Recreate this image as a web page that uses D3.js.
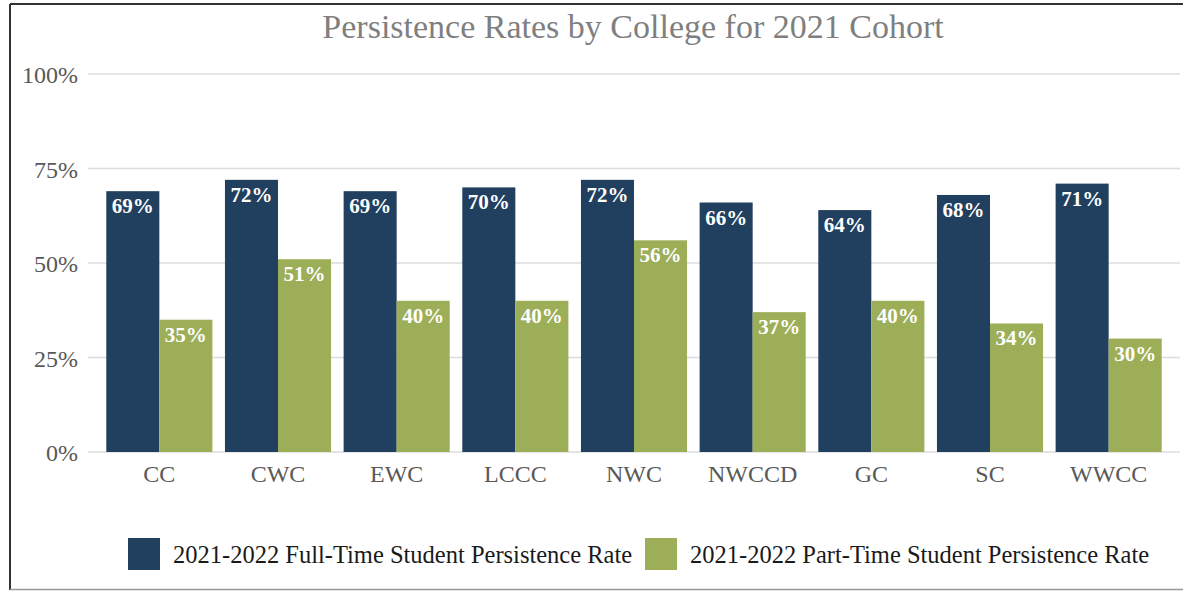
<!DOCTYPE html>
<html><head><meta charset="utf-8">
<script src="https://cdn.jsdelivr.net/npm/d3@7"></script>
<style>body{margin:0;background:#fff}svg{display:block}</style>
</head><body>
<svg id="c" width="1183" height="592"></svg>
<script>
const categories = ["CC","CWC","EWC","LCCC","NWC","NWCCD","GC","SC","WWCC"];
const fullTime = [69,72,69,70,72,66,64,68,71];
const partTime = [35,51,40,40,56,37,40,34,30];
const seriesNames = ["2021-2022 Full-Time Student Persistence Rate","2021-2022 Part-Time Student Persistence Rate"];
const colors = ["#213f5e","#9dae59"];
const yTicks = [0,25,50,75,100];
const title = "Persistence Rates by College for 2021 Cohort";

const svg = d3.select("#c");
const serif = "'Liberation Serif','Times New Roman',serif";

// frame
svg.append("line").attr("x1",10).attr("x2",1183).attr("y1",4).attr("y2",4).attr("stroke","#333").attr("stroke-width",2);
svg.append("line").attr("x1",10).attr("x2",10).attr("y1",4).attr("y2",590).attr("stroke","#333").attr("stroke-width",2);
svg.append("line").attr("x1",10).attr("x2",1183).attr("y1",589.5).attr("y2",589.5).attr("stroke","#999").attr("stroke-width",1.5);

const y = d3.scaleLinear().domain([0,100]).range([452,74]);
const x0 = d3.scaleBand().domain(categories).range([100,1168]).paddingInner(0.106).paddingOuter(0.053);
const x1 = d3.scaleBand().domain([0,1]).range([0,x0.bandwidth()]);

// gridlines
svg.append("g").selectAll("line").data(yTicks).join("line")
  .attr("x1",88).attr("x2",1180).attr("y1",d=>y(d)).attr("y2",d=>y(d))
  .attr("stroke","#dcdcdc").attr("stroke-width",1.5);

// y labels
const yAxis = d3.axisLeft(y).tickValues(yTicks).tickFormat(d=>d+"%").tickSize(0).tickPadding(0);
const ga = svg.append("g").attr("transform","translate(78,0)").call(yAxis);
ga.select(".domain").remove();
ga.selectAll("text").attr("font-family",serif).attr("font-size",24).attr("fill","#595959").attr("dy","0.36em");

// bars
const data = categories.map((c,i)=>({c, v:[fullTime[i],partTime[i]]}));
const groups = svg.append("g").selectAll("g").data(data).join("g").attr("transform",d=>`translate(${x0(d.c)},0)`);
groups.selectAll("rect").data(d=>d.v.map((v,k)=>({v,k}))).join("rect")
  .attr("x",d=>x1(d.k)).attr("width",x1.bandwidth())
  .attr("y",d=>y(d.v)).attr("height",d=>y(0)-y(d.v)).attr("fill",d=>colors[d.k]);
groups.selectAll("text").data(d=>d.v.map((v,k)=>({v,k}))).join("text")
  .attr("x",d=>x1(d.k)+x1.bandwidth()/2).attr("y",d=>y(d.v)+22)
  .attr("text-anchor","middle").attr("font-family",serif).attr("font-weight","bold")
  .attr("font-size",21).attr("fill","#fff").text(d=>d.v+"%");

// x labels
const xAxis = d3.axisBottom(x0).tickSize(0).tickPadding(0);
const gx = svg.append("g").attr("transform","translate(0,482)").call(xAxis);
gx.select(".domain").remove();
gx.selectAll("text").attr("font-family",serif).attr("font-size",24).attr("fill","#595959").attr("dy",0);

// title
svg.append("text").attr("x",633).attr("y",38).attr("text-anchor","middle")
  .attr("font-family",serif).attr("font-size",34).attr("fill","#7f7f7f").text(title);

// legend
const legX = [128,645];
const lg = svg.append("g").selectAll("g").data(seriesNames).join("g").attr("transform",(d,i)=>`translate(${legX[i]},538)`);
lg.append("rect").attr("width",32).attr("height",32).attr("fill",(d,i)=>colors[i]);
lg.append("text").attr("x",45).attr("y",25).attr("font-family",serif).attr("font-size",24.5).attr("fill","#1a1a1a").text(d=>d);
</script>
</body></html>
